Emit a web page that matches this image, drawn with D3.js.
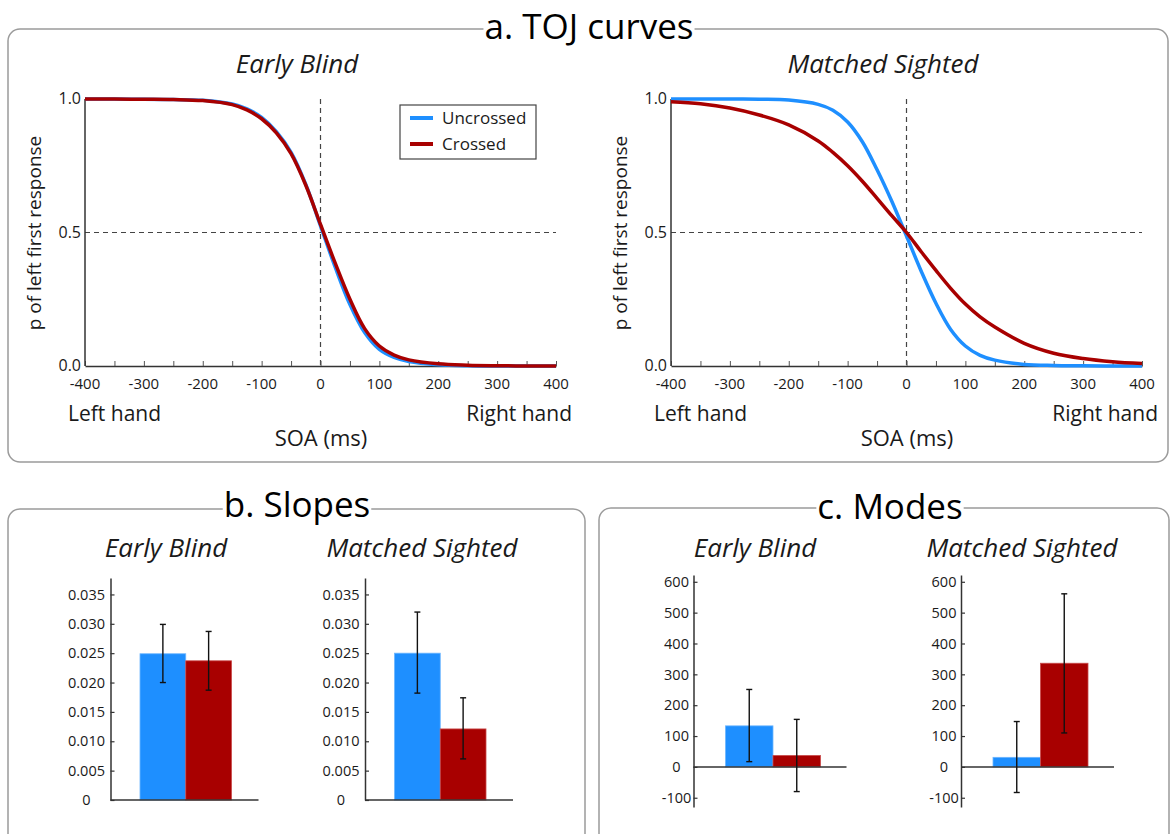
<!DOCTYPE html>
<html>
<head>
<meta charset="utf-8">
<script src="https://cdn.jsdelivr.net/npm/d3@7"></script>
<style>
  body { margin: 0; background: #fff; }
  svg { display: block; font-family: "Open Sans", "Noto Sans", sans-serif; }
</style>
</head>
<body>
<svg id="fig" width="1171" height="834"></svg>
<script>

// ---- data ----
const soa = [-400, -350, -300, -250, -200, -150, -125, -100, -75, -50, -25, 0, 25, 50, 75, 100, 125, 150, 200, 250, 300, 350, 400];

// TOJ curves, p of left first response
const ebUncrossed = [1.000, 1.000, 0.999, 0.998, 0.995, 0.981, 0.963, 0.931, 0.878, 0.800, 0.680, 0.525, 0.370, 0.230, 0.125, 0.062, 0.032, 0.017, 0.005, 0.001, 0.000, 0.000, 0.000];
const ebCrossed   = [1.000, 1.000, 0.999, 0.998, 0.994, 0.979, 0.959, 0.926, 0.873, 0.795, 0.677, 0.530, 0.385, 0.250, 0.140, 0.075, 0.041, 0.023, 0.008, 0.003, 0.001, 0.000, 0.000];
const msUncrossed = [1.000, 1.000, 1.000, 0.999, 0.996, 0.980, 0.958, 0.914, 0.840, 0.735, 0.617, 0.487, 0.355, 0.235, 0.137, 0.075, 0.040, 0.022, 0.006, 0.002, 0.001, 0.000, 0.000];
const msCrossed   = [0.990, 0.982, 0.966, 0.940, 0.903, 0.843, 0.800, 0.750, 0.692, 0.628, 0.563, 0.500, 0.428, 0.358, 0.291, 0.232, 0.184, 0.146, 0.085, 0.048, 0.028, 0.016, 0.009];

const groups = ["Early Blind", "Matched Sighted"];
const conditions = ["Uncrossed", "Crossed"];
const colors = ["#1e8fff", "#a80000"];

// slopes  (mean, lower, upper)  [uncrossed, crossed]
const slopeEB   = [0.0249, 0.0237];
const slopeEBlo = [0.0200, 0.0187];
const slopeEBhi = [0.0299, 0.0287];
const slopeMS   = [0.0250, 0.0121];
const slopeMSlo = [0.0182, 0.0070];
const slopeMShi = [0.0320, 0.0174];
const slopeTicks = [0, 0.005, 0.010, 0.015, 0.020, 0.025, 0.030, 0.035];

// modes
const modeEB   = [133, 37];
const modeEBlo = [17, -80];
const modeEBhi = [251, 154];
const modeMS   = [31, 336];
const modeMSlo = [-83, 110];
const modeMShi = [147, 561];
const modeTicks = [-100, 0, 100, 200, 300, 400, 500, 600];

const soaTicks = [-400, -300, -200, -100, 0, 100, 200, 300, 400];
const pTicks = [0, 0.5, 1];

const svg = d3.select('#fig');
const axisColor = '#333';
const textColor = '#1a1a1a';

// ---- panel frames ----
function frame(x, y, w, h, title, cx, by) {
  svg.append('rect')
    .attr('x', x).attr('y', y).attr('width', w).attr('height', h)
    .attr('rx', 12).attr('ry', 12)
    .attr('fill', 'none')
    .attr('stroke', '#9b9b9b')
    .attr('stroke-width', 1.5);
  let bg = svg.append('rect').attr('fill', '#fff');
  let t = svg.append('text')
    .attr('x', cx).attr('y', by)
    .attr('text-anchor', 'middle')
    .style('font-size', '35px')
    .style('fill', '#000')
    .text(title);
  let bb = t.node().getBBox();
  bg.attr('x', bb.x - 1).attr('y', bb.y).attr('width', bb.width + 2).attr('height', bb.height);
}

frame(8, 29, 1160, 433, 'a. TOJ curves', 589, 39);
frame(8, 509, 577, 340, 'b. Slopes', 297, 517);
frame(599, 508, 570, 340, 'c. Modes', 890, 519);

// ---- TOJ curve plots ----
function drawCurves(left, group, uncrossed, crossed, withLegend) {
  let x = d3.scaleLinear().domain([-400, 400]).range([left, left + 471]);
  let y = d3.scaleLinear().domain([0, 1]).range([366, 99]);
  let g = svg.append('g');

  g.append('text')
    .attr('x', left + 212).attr('y', 73)
    .attr('text-anchor', 'middle')
    .style('font-size', '26px')
    .style('font-style', 'italic')
    .style('fill', textColor)
    .text(group);

  // dashed reference lines
  g.append('line')
    .attr('x1', x(-400)).attr('x2', x(400))
    .attr('y1', y(0.5)).attr('y2', y(0.5))
    .attr('stroke', '#444').attr('stroke-width', 1.2)
    .attr('stroke-dasharray', '5,4');
  g.append('line')
    .attr('x1', x(0)).attr('x2', x(0))
    .attr('y1', y(1)).attr('y2', y(0))
    .attr('stroke', '#444').attr('stroke-width', 1.2)
    .attr('stroke-dasharray', '5,4');

  // x axis, minor ticks every 50 pointing inward
  let xAxis = g.append('g')
    .attr('transform', `translate(0,${y(0)})`)
    .call(d3.axisTop(x).tickValues(d3.range(-400, 401, 50)).tickSize(5).tickSizeOuter(0).tickFormat(''));
  xAxis.select('.domain').attr('stroke', axisColor).attr('stroke-width', 1.5);
  xAxis.selectAll('.tick line').attr('stroke', '#555');

  g.selectAll('.xlab')
    .data(soaTicks)
    .join('text')
    .attr('x', d => x(d))
    .attr('y', 389)
    .attr('text-anchor', 'middle')
    .style('font-size', '15px')
    .style('fill', textColor)
    .text(d => d);

  // y axis
  g.append('line')
    .attr('x1', left).attr('x2', left)
    .attr('y1', y(1)).attr('y2', y(0))
    .attr('stroke', axisColor).attr('stroke-width', 1.5);
  g.selectAll('.ylab')
    .data(pTicks)
    .join('text')
    .attr('x', left - 4)
    .attr('y', d => y(d))
    .attr('dy', '0.34em')
    .attr('text-anchor', 'end')
    .style('font-size', '16px')
    .style('fill', textColor)
    .text(d => d3.format('.1f')(d));

  g.append('text')
    .attr('transform', `translate(${left - 44},233) rotate(-90)`)
    .attr('text-anchor', 'middle')
    .style('font-size', '19px')
    .style('fill', textColor)
    .text('p of left first response');

  g.append('text').attr('x', left - 17).attr('y', 421)
    .style('font-size', '21px').style('fill', textColor).text('Left hand');
  g.append('text').attr('x', left + 487).attr('y', 421).attr('text-anchor', 'end')
    .style('font-size', '21px').style('fill', textColor).text('Right hand');
  g.append('text').attr('x', left + 236).attr('y', 446).attr('text-anchor', 'middle')
    .style('font-size', '22px').style('fill', textColor).text('SOA (ms)');

  // curves
  let line = d3.line()
    .x((d, i) => x(soa[i]))
    .y(d => y(d))
    .curve(d3.curveCatmullRom.alpha(0.5));

  [uncrossed, crossed].forEach((series, k) => {
    g.append('path')
      .datum(series)
      .attr('d', line)
      .attr('fill', 'none')
      .attr('stroke', colors[k])
      .attr('stroke-width', 3.5);
  });

  if (withLegend) {
    let lg = g.append('g');
    lg.append('rect')
      .attr('x', left + 315).attr('y', 105)
      .attr('width', 136).attr('height', 54)
      .attr('fill', '#fff')
      .attr('stroke', '#444').attr('stroke-width', 1.2);
    conditions.forEach((c, k) => {
      let yy = 118 + k * 26;
      lg.append('line')
        .attr('x1', left + 325).attr('x2', left + 348)
        .attr('y1', yy).attr('y2', yy)
        .attr('stroke', colors[k]).attr('stroke-width', 4);
      lg.append('text')
        .attr('x', left + 357).attr('y', yy).attr('dy', '0.35em')
        .style('font-size', '17px')
        .style('fill', textColor)
        .text(c);
    });
  }
}

drawCurves(85, groups[0], ebUncrossed, ebCrossed, true);
drawCurves(671, groups[1], msUncrossed, msCrossed, false);

// ---- bar plots ----
function drawBars(opts) {
  let g = svg.append('g');
  let ax = opts.axisX;
  let y = d3.scaleLinear().domain(opts.domain).range(opts.range);
  let x = d3.scaleBand().domain(conditions).range([ax + opts.barStart, ax + opts.barEnd]).padding(0);

  g.append('text')
    .attr('x', opts.titleX).attr('y', 557)
    .attr('text-anchor', 'middle')
    .style('font-size', '26px')
    .style('font-style', 'italic')
    .style('fill', textColor)
    .text(opts.group);

  // bars
  g.selectAll('.bar')
    .data(opts.mean)
    .join('rect')
    .attr('x', (d, i) => x(conditions[i]))
    .attr('width', x.bandwidth())
    .attr('y', d => Math.min(y(d), y(0)))
    .attr('height', d => Math.abs(y(0) - y(d)))
    .attr('fill', (d, i) => colors[i])
    .attr('stroke', (d, i) => i == 0 ? '#6cb6ff' : '#c94a4a')
    .attr('stroke-width', 0.8);

  // axes
  let yAxis = g.append('g')
    .attr('transform', `translate(${ax},0)`)
    .call(d3.axisRight(y).tickValues(opts.ticks).tickSize(4).tickSizeOuter(0).tickFormat(''));
  yAxis.select('.domain').attr('stroke', axisColor).attr('stroke-width', 1.5);
  yAxis.selectAll('.tick line').attr('stroke', axisColor).attr('stroke-width', 1.2);

  g.append('line')
    .attr('x1', ax).attr('x2', ax + opts.axisLen)
    .attr('y1', y(0)).attr('y2', y(0))
    .attr('stroke', axisColor).attr('stroke-width', 1.5);

  g.selectAll('.ylab')
    .data(opts.ticks)
    .join('text')
    .attr('x', ax - opts.labelOff)
    .attr('y', d => y(d))
    .attr('dy', '0.36em')
    .attr('text-anchor', 'middle')
    .style('font-size', '14.5px')
    .style('fill', textColor)
    .text(opts.format);

  // error bars
  let eb = g.selectAll('.err')
    .data(opts.mean.map((m, i) => ({ c: conditions[i], lo: opts.lo[i], hi: opts.hi[i] })))
    .join('g');
  let cx = d => x(d.c) + x.bandwidth() / 2;
  eb.append('line')
    .attr('x1', cx).attr('x2', cx)
    .attr('y1', d => y(d.lo)).attr('y2', d => y(d.hi))
    .attr('stroke', '#111').attr('stroke-width', 1.4);
  eb.append('line')
    .attr('x1', d => cx(d) - 3).attr('x2', d => cx(d) + 3)
    .attr('y1', d => y(d.lo)).attr('y2', d => y(d.lo))
    .attr('stroke', '#111').attr('stroke-width', 1.4);
  eb.append('line')
    .attr('x1', d => cx(d) - 3).attr('x2', d => cx(d) + 3)
    .attr('y1', d => y(d.hi)).attr('y2', d => y(d.hi))
    .attr('stroke', '#111').attr('stroke-width', 1.4);
}

let slopeFmt = d => d == 0 ? '0' : d3.format('.3f')(d);
let slopeBase = { domain: [0, 0.0378], range: [800, 578], ticks: slopeTicks, format: slopeFmt, labelOff: 24, axisLen: 148, barStart: 29.5, barEnd: 121 };

drawBars(Object.assign({}, slopeBase, { group: groups[0], axisX: 110.5, titleX: 166, mean: slopeEB, lo: slopeEBlo, hi: slopeEBhi }));
drawBars(Object.assign({}, slopeBase, { group: groups[1], axisX: 365, titleX: 422, mean: slopeMS, lo: slopeMSlo, hi: slopeMShi }));

let modeBase = { domain: [-130, 622], range: [807, 575], ticks: modeTicks, format: d => d, labelOff: 17, axisLen: 153, barStart: 32, barEnd: 127 };

drawBars(Object.assign({}, modeBase, { group: groups[0], axisX: 693.5, titleX: 755, mean: modeEB, lo: modeEBlo, hi: modeEBhi }));
drawBars(Object.assign({}, modeBase, { group: groups[1], axisX: 961, titleX: 1022, mean: modeMS, lo: modeMSlo, hi: modeMShi }));

</script>
</body>
</html>
